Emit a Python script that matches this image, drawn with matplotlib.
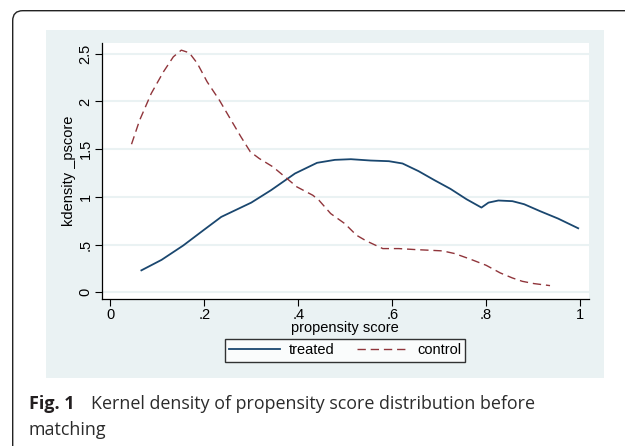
import matplotlib
matplotlib.use('Agg')
import matplotlib.pyplot as plt
from matplotlib.patches import Rectangle, FancyBboxPatch
from matplotlib.transforms import IdentityTransform

# 数据
treated_x = [0.066, 0.109, 0.155, 0.198, 0.236, 0.30, 0.342, 0.393, 0.44, 0.478,
             0.512, 0.554, 0.593, 0.622, 0.656, 0.69, 0.724, 0.758, 0.79, 0.805,
             0.826, 0.856, 0.881, 0.915, 0.953, 0.996]
treated_y = [0.23, 0.34, 0.49, 0.65, 0.79, 0.94, 1.07, 1.245, 1.357, 1.388,
             1.395, 1.381, 1.374, 1.35, 1.27, 1.175, 1.084, 0.976, 0.888, 0.94,
             0.962, 0.955, 0.923, 0.85, 0.773, 0.671]

control_x = [0.045, 0.062, 0.087, 0.113, 0.134, 0.151, 0.168, 0.185, 0.206, 0.232,
             0.257, 0.278, 0.298, 0.317, 0.346, 0.376, 0.397, 0.431, 0.444, 0.469,
             0.499, 0.524, 0.545, 0.58, 0.614, 0.648, 0.682, 0.707, 0.733, 0.767,
             0.80, 0.83, 0.856, 0.877, 0.902, 0.936]
control_y = [1.552, 1.80, 2.084, 2.311, 2.468, 2.538, 2.51, 2.40, 2.206, 2.014,
             1.804, 1.629, 1.472, 1.402, 1.315, 1.192, 1.105, 1.017, 0.965, 0.825,
             0.72, 0.598, 0.538, 0.458, 0.458, 0.448, 0.44, 0.434, 0.406, 0.346,
             0.283, 0.203, 0.15, 0.115, 0.091, 0.07]

x_ticks = [0, 0.2, 0.4, 0.6, 0.8, 1]
x_tick_labels = ['0', '.2', '.4', '.6', '.8', '1']
y_ticks = [0, 0.5, 1, 1.5, 2, 2.5]
y_tick_labels = ['0', '.5', '1', '1.5', '2', '2.5']

W, H = 625, 446
plt.rcParams['font.family'] = ['Liberation Sans', 'DejaVu Sans']

fig = plt.figure(figsize=(W / 100, H / 100), dpi=100)
fig.patch.set_facecolor('white')

# 外框（圆角）
frame = FancyBboxPatch((12.7, -40), 700, H - 10.7 + 40,
                       boxstyle='round,pad=0,rounding_size=10',
                       transform=IdentityTransform(), facecolor='none',
                       edgecolor='#222222', linewidth=1.0, zorder=-3)
fig.add_artist(frame)

# Stata 背景
panel = Rectangle((46, H - 378), 558, 348, transform=IdentityTransform(),
                  facecolor='#eaf2f3', edgecolor='none', zorder=-2)
fig.add_artist(panel)

# 坐标轴
ax = fig.add_axes([101.6 / W, 1 - 299.3 / H, (589 - 101.6) / W, (299.3 - 42.7) / H])
ax.set_facecolor('white')
ax.set_zorder(1)

ax.plot(treated_x, treated_y, color='#1a476f', linewidth=1.3, label='treated')
ax.plot(control_x, control_y, color='#90353b', linewidth=1.0,
        dashes=(6, 3.5), label='control')

ax.set_xlim(-0.0187, 1.019)
ax.set_ylim(-0.0735, 2.616)
ax.set_xticks(x_ticks)
ax.set_xticklabels(x_tick_labels, fontsize=10.5)
ax.set_yticks(y_ticks)
ax.set_yticklabels(y_tick_labels, fontsize=10.5, rotation=90, va='center')
ax.tick_params(direction='out', length=5, width=0.8, color='black', pad=1.5)
ax.grid(axis='y', color='#eaf2f3', linewidth=1.5)
ax.set_axisbelow(True)
for s in ['top', 'right']:
    ax.spines[s].set_visible(False)
for s in ['left', 'bottom']:
    ax.spines[s].set_linewidth(0.9)
ax.set_xlabel('propensity score', fontsize=10.5, labelpad=-1)
ax.set_ylabel('kdensity _pscore', fontsize=10.5, labelpad=2)

leg = ax.legend(loc='center', bbox_to_anchor=(345 / W, 1 - 350.5 / H),
                bbox_transform=fig.transFigure, ncol=2, fontsize=10.5,
                frameon=True, fancybox=False, edgecolor='black',
                handlelength=3.5, handletextpad=0.6, columnspacing=1.55,
                borderpad=0.3, borderaxespad=0)
leg.get_frame().set_linewidth(1.0)

# 图注
cap = ['Open Sans', 'DejaVu Sans']
fig.text(29 / W, 1 - 409 / H, 'Fig. 1', fontsize=13, fontweight='bold',
         family=cap, color='#231f20', va='baseline')
fig.text(91 / W, 1 - 409 / H,
         'Kernel density of propensity score distribution before',
         fontsize=12.9, family=cap, color='#2b2b2b', va='baseline')
fig.text(29 / W, 1 - 435 / H, 'matching', fontsize=12.9, family=cap,
         color='#2b2b2b', va='baseline')

fig.savefig('out.png', dpi=100)
